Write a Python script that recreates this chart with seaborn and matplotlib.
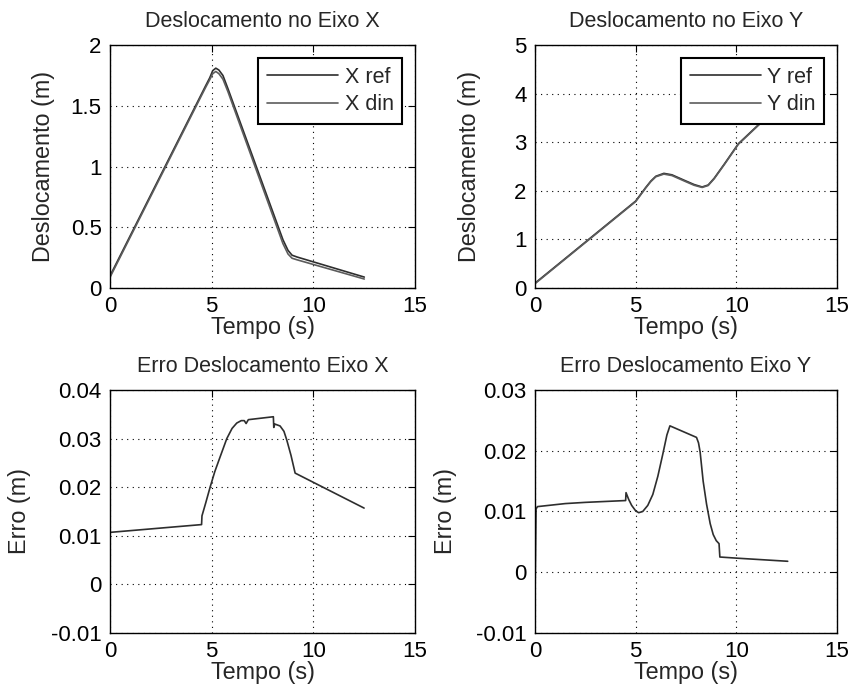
import matplotlib
matplotlib.use("Agg")
import matplotlib.pyplot as plt
import matplotlib.ticker as mticker
import pandas as pd
import seaborn as sns

# deslocamento X (referencia e dinamica)
t_x = [0, 4.4, 4.7, 4.9, 5.05, 5.2, 5.35, 5.55, 5.8, 8.5, 8.75, 8.95, 9.2, 12.5]
x_ref = [0.10, 1.565, 1.665, 1.73, 1.79, 1.81, 1.795, 1.75, 1.64, 0.398, 0.31, 0.27, 0.255, 0.09]
x_din = [0.089, 1.553, 1.652, 1.715, 1.765, 1.783, 1.765, 1.72, 1.615, 0.366, 0.28, 0.245, 0.232, 0.074]

# deslocamento Y
t_y = [0, 5.0, 5.25, 5.5, 5.75, 6.0, 6.4, 6.8, 7.4, 7.9, 8.3, 8.6, 8.9, 9.4, 10.1, 11.2, 12.5]
y_ref = [0.10, 1.79, 1.93, 2.07, 2.20, 2.30, 2.36, 2.33, 2.22, 2.13, 2.08, 2.12, 2.26, 2.55, 2.97, 3.40, 4.00]
y_din = [0.09, 1.78, 1.92, 2.06, 2.19, 2.29, 2.345, 2.315, 2.205, 2.115, 2.07, 2.11, 2.25, 2.54, 2.96, 3.39, 3.99]

# erros
t_ex = [0, 4.50, 4.52, 4.7, 4.92, 5.15, 5.4, 5.74, 6.0, 6.23, 6.45, 6.6, 6.69, 6.8,
        8.03, 8.05, 8.1, 8.36, 8.55, 8.69, 8.9, 9.1, 12.49]
err_x = [0.0107, 0.0123, 0.0141, 0.0167, 0.0200, 0.0232, 0.0261, 0.0300, 0.0321,
         0.0332, 0.0337, 0.0337, 0.0331, 0.0339, 0.0345, 0.0323, 0.0330, 0.0326,
         0.0315, 0.0297, 0.0265, 0.0229, 0.0157]

t_ey = [0, 0.05, 0.12, 1.5, 2.5, 4.50, 4.52, 4.65, 4.8, 5.0, 5.15, 5.35, 5.6, 5.85,
        6.1, 6.35, 6.55, 6.7, 8.02, 8.12, 8.2, 8.35, 8.52, 8.7, 8.85, 9.0, 9.14,
        9.18, 10.08, 12.55]
err_y = [-0.004, 0.0104, 0.0108, 0.0113, 0.0115, 0.0118, 0.0131, 0.0120, 0.0110,
         0.0101, 0.0098, 0.0100, 0.0110, 0.0128, 0.0158, 0.0195, 0.0226, 0.0241,
         0.0222, 0.0213, 0.0198, 0.0150, 0.0112, 0.0080, 0.0062, 0.0052, 0.0047,
         0.0025, 0.0023, 0.0018]

sns.set_style("white")
plt.rcParams['font.family'] = ['Liberation Sans', 'DejaVu Sans']
plt.rcParams['font.size'] = 15

fig = plt.figure(figsize=(8.57, 6.94), dpi=100)
h = 0.350
axes = [fig.add_axes([0.1284, 0.585, 0.356, h]),
        fig.add_axes([0.6243, 0.585, 0.3524, h]),
        fig.add_axes([0.1284, 0.088, 0.356, h]),
        fig.add_axes([0.6243, 0.088, 0.3524, h])]

ref_c = '#2e2e2e'
din_c = '#5c5c5c'
fs = 15.5
lab_fs = 16.8

def draw(ax, t, v, color, label=None):
    df = pd.DataFrame({'t': t, 'v': v})
    sns.lineplot(data=df, x='t', y='v', ax=ax, color=color, lw=1.2,
                 estimator=None, sort=False, label=label)

ax = axes[0]
draw(ax, t_x, x_ref, ref_c, 'X ref')
draw(ax, t_x, x_din, din_c, 'X din')
ax.set_ylim(0, 2)
ax.set_yticks([0, 0.5, 1, 1.5, 2])
ax.set_title('Deslocamento no Eixo X', fontsize=fs, pad=13)
ax.set_ylabel('Deslocamento (m)', fontsize=lab_fs)
ax.yaxis.set_label_coords(-0.18, 0.5)

ax = axes[1]
draw(ax, t_y, y_ref, ref_c, 'Y ref')
draw(ax, t_y, y_din, din_c, 'Y din')
ax.set_ylim(0, 5)
ax.set_yticks([0, 1, 2, 3, 4, 5])
ax.set_title('Deslocamento no Eixo Y', fontsize=fs, pad=13)
ax.set_ylabel('Deslocamento (m)', fontsize=lab_fs)
ax.yaxis.set_label_coords(-0.18, 0.5)

ax = axes[2]
draw(ax, t_ex, err_x, ref_c)
ax.set_ylim(-0.01, 0.04)
ax.set_yticks([-0.01, 0, 0.01, 0.02, 0.03, 0.04])
ax.set_title('Erro Deslocamento Eixo X', fontsize=fs, pad=13)
ax.set_ylabel('Erro (m)', fontsize=lab_fs)
ax.yaxis.set_label_coords(-0.26, 0.5)

ax = axes[3]
draw(ax, t_ey, err_y, ref_c)
ax.set_ylim(-0.01, 0.03)
ax.set_yticks([-0.01, 0, 0.01, 0.02, 0.03])
ax.set_title('Erro Deslocamento Eixo Y', fontsize=fs, pad=13)
ax.set_ylabel('Erro (m)', fontsize=lab_fs)
ax.yaxis.set_label_coords(-0.26, 0.5)

for ax in axes:
    ax.set_xlim(0, 15)
    ax.set_xticks([0, 5, 10, 15])
    ax.set_xlabel('Tempo (s)', fontsize=lab_fs, labelpad=-1)
    ax.yaxis.set_major_formatter(mticker.FuncFormatter(lambda v, p: '{:g}'.format(round(v, 4))))
    ax.grid(True, color='black', linestyle=(0, (1, 4)), linewidth=0.8)
    ax.tick_params(direction='in', top=True, right=True, length=5, width=0.8,
                   labelsize=16, colors='black')
    ax.tick_params(axis='x', pad=6)
    ax.tick_params(axis='y', pad=6)
    for s in ax.spines.values():
        s.set_color('black')
        s.set_linewidth(1.0)
    if ax.get_legend() is not None:
        ax.legend(loc='upper right', frameon=True, fancybox=False, framealpha=1,
                  edgecolor='black', handlelength=3.3, borderpad=0.4,
                  labelspacing=0.3, handletextpad=0.3, borderaxespad=0.6,
                  fontsize=fs)
        ax.get_legend().get_frame().set_linewidth(1.5)

fig.savefig('out.png', dpi=100)
